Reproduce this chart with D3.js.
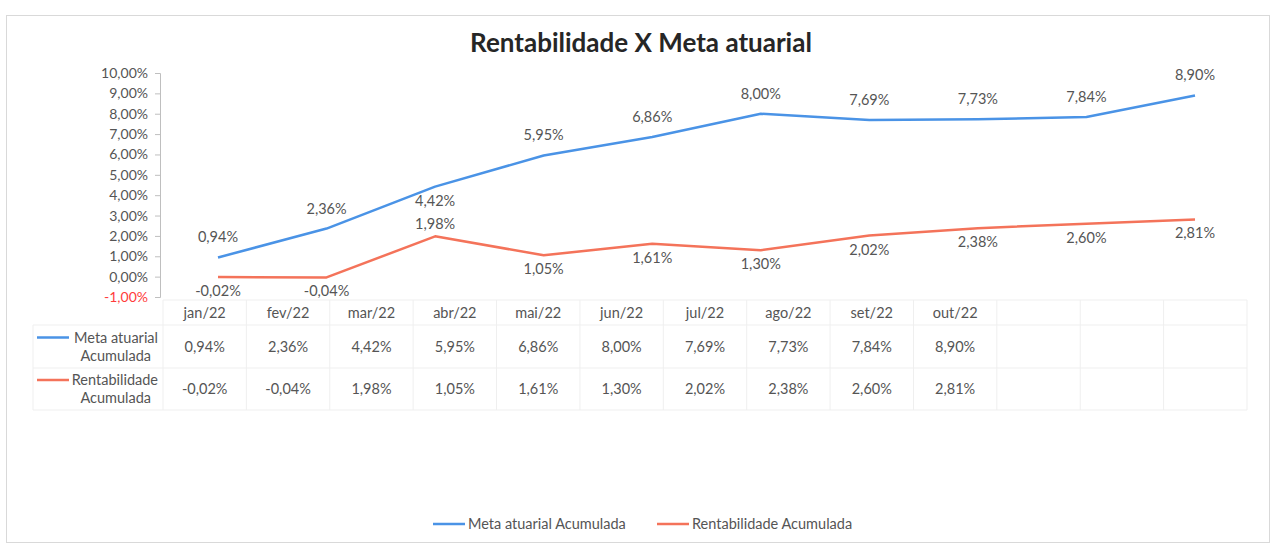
<!DOCTYPE html>
<html>
<head>
<meta charset="utf-8">
<script src="https://cdn.jsdelivr.net/npm/d3@7"></script>
<style>
  body { margin: 0; background: #fff; }
  svg { display: block; font-family: Lato, 'Open Sans', sans-serif; }
</style>
</head>
<body>
<div id="chart"></div>
<script>
const months = ['jan/22', 'fev/22', 'mar/22', 'abr/22', 'mai/22', 'jun/22', 'jul/22', 'ago/22', 'set/22', 'out/22'];
const metaAtuarial = [0.94, 2.36, 4.42, 5.95, 6.86, 8.00, 7.69, 7.73, 7.84, 8.90];
const rentabilidade = [-0.02, -0.04, 1.98, 1.05, 1.61, 1.30, 2.02, 2.38, 2.60, 2.81];
const yTicks = [-1, 0, 1, 2, 3, 4, 5, 6, 7, 8, 9, 10];
const emptyTableCols = 3;

const series = [
  { name: 'Meta atuarial Acumulada', rowLines: ['Meta atuarial', 'Acumulada'], values: metaAtuarial,
    color: '#4a93e6', labelsBelow: [2], aboveOffset: -15 },
  { name: 'Rentabilidade Acumulada', rowLines: ['Rentabilidade', 'Acumulada'], values: rentabilidade,
    color: '#f4735a', labelsBelow: [0, 1, 3, 4, 5, 6, 7, 8, 9], aboveOffset: -7 }
];

const W = 1274, H = 545;
const textColor = '#555';
const fs = '14.5px';
const fmt = v => v.toFixed(2).replace('.', ',') + '%';

const svg = d3.select('#chart').append('svg').attr('width', W).attr('height', H);

// outer frame
svg.append('rect')
  .attr('x', 6.5).attr('y', 15.5).attr('width', 1263).attr('height', 527)
  .attr('fill', '#fff').attr('stroke', '#d9d9d9');

// title
svg.append('text')
  .attr('x', 641).attr('y', 52)
  .attr('text-anchor', 'middle')
  .attr('font-size', '26px').attr('font-weight', 'bold')
  .attr('fill', '#262626')
  .text('Rentabilidade X Meta atuarial');

// scales
const x = d3.scalePoint().domain(months).range([218, 1195]);
const y = d3.scaleLinear().domain([-1, 10]).range([297, 73]);

// y axis
const yAxis = svg.append('g')
  .attr('transform', 'translate(160,0)')
  .call(d3.axisLeft(y).tickValues(yTicks).tickFormat(fmt).tickSize(5).tickPadding(7));
yAxis.select('.domain').attr('stroke', '#bfbfbf');
yAxis.selectAll('.tick line').attr('stroke', '#bfbfbf');
yAxis.selectAll('.tick text')
  .attr('font-family', "Lato, 'Open Sans', sans-serif")
  .attr('font-size', '14px')
  .attr('fill', d => d < 0 ? '#ff3b3b' : textColor);

// lines + labels
const line = d3.line().x((d, i) => x(months[i])).y(d => y(d));
series.forEach(s => {
  svg.append('path')
    .datum(s.values)
    .attr('fill', 'none')
    .attr('stroke', s.color)
    .attr('stroke-width', 2.5)
    .attr('stroke-linejoin', 'round')
    .attr('d', line);

  svg.append('g').selectAll('text')
    .data(s.values)
    .enter().append('text')
    .attr('x', (d, i) => x(months[i]))
    .attr('y', (d, i) => y(d) + (s.labelsBelow.includes(i) ? 19 : s.aboveOffset))
    .attr('text-anchor', 'middle')
    .attr('font-size', fs)
    .attr('fill', textColor)
    .text(fmt);
});

// data table
const colIdx = d3.range(months.length + emptyTableCols);
const tx = d3.scaleBand().domain(colIdx).range([163, 1247]);
const rowTop = [300, 325, 368, 410];
const gridColor = '#efefef';
const table = svg.append('g');

table.selectAll('line.v')
  .data(colIdx.concat([colIdx.length]))
  .enter().append('line')
  .attr('x1', i => i < colIdx.length ? tx(i) : tx.range()[1])
  .attr('x2', i => i < colIdx.length ? tx(i) : tx.range()[1])
  .attr('y1', rowTop[0]).attr('y2', rowTop[3])
  .attr('stroke', gridColor);
table.append('line')
  .attr('x1', 33).attr('x2', 33).attr('y1', rowTop[1]).attr('y2', rowTop[3])
  .attr('stroke', gridColor);
table.selectAll('line.h')
  .data(rowTop)
  .enter().append('line')
  .attr('x1', (d, i) => i === 0 ? 163 : 33).attr('x2', 1247)
  .attr('y1', d => d).attr('y2', d => d)
  .attr('stroke', gridColor);

table.selectAll('text.month')
  .data(months)
  .enter().append('text')
  .attr('x', (d, i) => tx(i) + tx.bandwidth() / 2)
  .attr('y', 318)
  .attr('text-anchor', 'middle')
  .attr('font-size', fs)
  .attr('fill', textColor)
  .text(d => d);

series.forEach((s, si) => {
  const cy = (rowTop[si + 1] + rowTop[si + 2]) / 2;
  table.selectAll(null)
    .data(s.values)
    .enter().append('text')
    .attr('x', (d, i) => tx(i) + tx.bandwidth() / 2)
    .attr('y', cy + 5)
    .attr('text-anchor', 'middle')
    .attr('font-size', fs)
    .attr('fill', textColor)
    .text(fmt);

  table.append('line')
    .attr('x1', 37).attr('x2', 69)
    .attr('y1', cy - 9).attr('y2', cy - 9)
    .attr('stroke', s.color).attr('stroke-width', 2.5);
  table.append('text')
    .attr('x', 158).attr('y', cy - 4)
    .attr('text-anchor', 'end')
    .attr('font-size', fs)
    .attr('fill', textColor)
    .text(s.rowLines[0]);
  table.append('text')
    .attr('x', 151).attr('y', cy + 14)
    .attr('text-anchor', 'end')
    .attr('font-size', fs)
    .attr('fill', textColor)
    .text(s.rowLines[1]);
});

// legend
const legendX = [433, 657];
const legend = svg.append('g').selectAll('g')
  .data(series)
  .enter().append('g')
  .attr('transform', (d, i) => `translate(${legendX[i]},524)`);
legend.append('line')
  .attr('x1', 0).attr('x2', 32)
  .attr('stroke', d => d.color).attr('stroke-width', 2.5);
legend.append('text')
  .attr('x', 35).attr('y', 5)
  .attr('font-size', fs)
  .attr('fill', textColor)
  .text(d => d.name);
</script>
</body>
</html>
